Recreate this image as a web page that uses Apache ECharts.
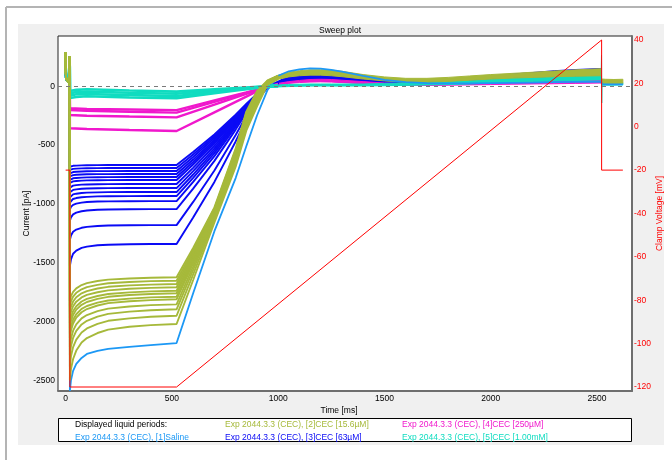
<!DOCTYPE html>
<html>
<head>
<meta charset="utf-8">
<script src="https://cdn.jsdelivr.net/npm/echarts@6/dist/echarts.min.js"></script>
<style>
html, body { margin: 0; padding: 0; background: #fff; }
#chart { width: 672px; height: 460px; }
</style>
</head>
<body>
<div id="chart"></div>
<script>
// ---- Sweep data: time in ms, current in pA, clamp voltage in mV ----

// Short pulse at the start of every sweep (shared by all sweeps)
const preT = [0, 0.5, 2, 5, 10, 15, 19];
const preI = [290, 120, 75, 55, 42, 36, 255];

// Hold phase at -120 mV, then the ramp phase
const holdT = [20, 25, 35, 50, 75, 100, 150, 200, 300, 400, 522];
const rampT = [600, 700, 800, 850, 900, 950, 1000];

// [1] Saline
const salineHold = [-2590, -2500, -2420, -2361, -2310, -2276, -2250, -2233, -2215, -2200, -2183];
const salineRamp = [-1760, -1232, -780, -510, -250, -30, 90];
const salineTailT = [1050, 1100, 1150, 1200, 1250, 1300, 1400, 1500, 1600, 1700, 1800, 1900, 2000, 2100, 2200, 2300, 2400, 2520, 2524, 2622];
const salineTail = [128, 145, 152, 150, 140, 125, 88, 55, 35, 28, 25, 25, 28, 30, 32, 35, 38, 40, 17, 17];

// [2] CEC 15.6 µM sweeps
const oliveHold = [
  [-1824, -1784, -1748, -1718, -1690, -1674, -1656, -1644, -1634, -1628, -1624],
  [-1873, -1829, -1789, -1756, -1726, -1708, -1688, -1675, -1664, -1657, -1653],
  [-1921, -1873, -1830, -1794, -1760, -1741, -1719, -1705, -1693, -1686, -1681],
  [-1969, -1917, -1870, -1831, -1795, -1774, -1751, -1735, -1722, -1714, -1709],
  [-2018, -1962, -1912, -1870, -1830, -1808, -1783, -1766, -1752, -1744, -1738],
  [-2056, -1997, -1944, -1899, -1858, -1834, -1807, -1790, -1775, -1766, -1760],
  [-2105, -2042, -1985, -1938, -1893, -1868, -1840, -1821, -1805, -1795, -1789],
  [-2143, -2077, -2017, -1967, -1921, -1894, -1864, -1844, -1828, -1818, -1811],
  [-2216, -2144, -2078, -2024, -1973, -1945, -1912, -1890, -1872, -1861, -1854],
  [-2288, -2210, -2139, -2080, -2025, -1994, -1959, -1935, -1916, -1904, -1896],
  [-2382, -2296, -2218, -2154, -2093, -2059, -2020, -1994, -1973, -1960, -1951],
  [-2501, -2405, -2319, -2247, -2179, -2141, -2098, -2069, -2045, -2031, -2021]
];
const oliveRamp = [
  [-1374, -1030, -530, -215, -41, 50, 92],
  [-1394, -1039, -541, -227, -51, 47, 90],
  [-1413, -1048, -552, -238, -60, 45, 88],
  [-1432, -1057, -563, -250, -69, 43, 86],
  [-1452, -1066, -574, -261, -79, 40, 83],
  [-1468, -1074, -582, -271, -86, 38, 82],
  [-1488, -1083, -594, -282, -96, 35, 80],
  [-1503, -1090, -602, -291, -103, 34, 78],
  [-1532, -1104, -619, -309, -117, 30, 75],
  [-1561, -1117, -635, -326, -131, 26, 71],
  [-1599, -1135, -656, -348, -150, 21, 67],
  [-1647, -1157, -683, -377, -173, 15, 62]
];

// [3] CEC 63 µM sweeps
const blueHold = [
  [-684, -680, -676, -674, -672, -671, -670, -669, -669, -669, -669],
  [-710, -706, -702, -700, -698, -697, -696, -695, -695, -695, -695],
  [-740, -734, -729, -726, -724, -722, -721, -721, -720, -720, -720],
  [-766, -760, -755, -752, -750, -748, -747, -747, -746, -746, -746],
  [-796, -789, -782, -779, -776, -774, -773, -772, -771, -771, -771],
  [-822, -815, -808, -805, -802, -800, -799, -798, -797, -797, -797],
  [-861, -852, -845, -840, -836, -835, -833, -832, -831, -831, -831],
  [-900, -890, -881, -876, -871, -869, -867, -866, -865, -865, -865],
  [-944, -931, -919, -913, -907, -904, -902, -900, -899, -899, -899],
  [-988, -972, -958, -950, -943, -940, -936, -935, -934, -933, -933],
  [-1046, -1025, -1008, -997, -989, -984, -980, -978, -977, -976, -976],
  [-1144, -1114, -1089, -1074, -1062, -1056, -1050, -1047, -1045, -1044, -1044],
  [-1305, -1268, -1236, -1218, -1203, -1195, -1188, -1184, -1181, -1180, -1180],
  [-1526, -1471, -1424, -1397, -1374, -1363, -1352, -1347, -1343, -1341, -1341]
];
const blueRamp = [
  [-559, -409, -241, -150, -65, -5, 35],
  [-580, -425, -250, -155, -67, -5, 33],
  [-601, -440, -258, -160, -69, -6, 32],
  [-623, -456, -267, -165, -71, -6, 30],
  [-643, -471, -275, -170, -73, -7, 29],
  [-665, -486, -284, -175, -74, -7, 28],
  [-693, -507, -296, -182, -77, -8, 27],
  [-721, -527, -307, -189, -79, -8, 26],
  [-750, -547, -319, -196, -82, -9, 25],
  [-778, -568, -330, -203, -84, -9, 24],
  [-813, -594, -345, -211, -87, -10, 23],
  [-870, -634, -368, -225, -92, -10, 22],
  [-983, -716, -414, -252, -101, -11, 21],
  [-1116, -813, -469, -284, -112, -12, 20]
];

// [4] CEC 250 µM sweeps
const magT = [20, 100, 300, 522, 700, 850, 930, 1000];
const magI = [
  [-187, -192, -197, -202, -120, -52, -15, 20],
  [-201, -208, -216, -224, -133, -56, -15, 18],
  [-244, -250, -257, -264, -155, -64, -15, 16],
  [-357, -363, -372, -380, -221, -87, -15, 14]
];

// [5] CEC 1.00 mM sweeps
const tealT = [20, 50, 100, 300, 522, 700, 850, 950, 1000];
const tealI = [
  [-40, -30, -25, -35, -45, -26, -11, 2, 10],
  [-60, -48, -45, -55, -63, -37, -15, 0, 6],
  [-80, -68, -65, -75, -82, -48, -20, -2, 3],
  [-100, -90, -85, -95, -100, -58, -24, -4, 0]
];

// Outward phase: spread of each group of sweeps (lower / upper edge)
const bandT = [950, 1000, 1050, 1100, 1150, 1200, 1250, 1300, 1400, 1500, 1600, 1700, 1800, 1900, 2000, 2100, 2200, 2300, 2400, 2520];
const oliveHi = [50, 95, 120, 133, 140, 141, 138, 128, 100, 80, 68, 68, 76, 88, 100, 110, 120, 130, 140, 150];
const oliveLo = [15, 60, 80, 90, 95, 95, 90, 82, 62, 46, 36, 36, 42, 52, 62, 70, 76, 82, 86, 90];
const blueHi = [0, 45, 85, 105, 115, 116, 110, 100, 75, 55, 45, 48, 58, 72, 88, 104, 118, 133, 143, 152];
const blueLo = [-15, 10, 30, 40, 45, 45, 42, 36, 25, 15, 12, 12, 15, 20, 25, 30, 35, 40, 45, 50];
const magHi = [5, 25, 40, 50, 58, 60, 58, 52, 40, 28, 22, 22, 25, 30, 35, 40, 45, 50, 55, 60];
const magLo = [-10, 10, 25, 32, 36, 38, 36, 32, 22, 12, 8, 8, 10, 12, 15, 18, 20, 22, 25, 28];
const tealHi = [5, 12, 16, 18, 20, 20, 20, 20, 20, 25, 30, 35, 40, 50, 62, 70, 76, 82, 86, 90];
const tealLo = [-10, -5, -2, 0, 2, 2, 2, 2, 3, 5, 8, 12, 15, 20, 28, 34, 40, 45, 50, 54];

// After the step back to -20 mV
const postT = [2524, 2540, 2580, 2622];
const olivePostHi = [62, 60, 58, 60];
const olivePostLo = [28, 26, 25, 26];
const tealPostHi = [30, 28, 28, 30];
const tealPostLo = [10, 10, 10, 12];
const stepT = [2520, 2521.5, 2522.5, 2524];
const stepI = [90, 265, -142, 20];

// Clamp voltage protocol
const voltT = [0, 20, 20, 522, 2522, 2522, 2622];
const voltV = [-20, -20, -120, -120, 40, -20, -20];

// Axis ticks
const timeTicks = [0, 500, 1000, 1500, 2000, 2500];
const currentTicks = [-2500, -2000, -1500, -1000, -500, 0];
const voltTicks = [-120, -100, -80, -60, -40, -20, 0, 20, 40];

// Legend entries: row / column inside the legend box
const legendTitle = 'Displayed liquid periods:';
const periods = [
  { label: 'Exp 2044.3.3 (CEC), [1]Saline', color: '#1c98f5', row: 1, col: 0 },
  { label: 'Exp 2044.3.3 (CEC), [2]CEC [15.6µM]', color: '#a6b93a', row: 0, col: 1 },
  { label: 'Exp 2044.3.3 (CEC), [3]CEC [63µM]', color: '#0a0af5', row: 1, col: 1 },
  { label: 'Exp 2044.3.3 (CEC), [4]CEC [250µM]', color: '#f018cc', row: 0, col: 2 },
  { label: 'Exp 2044.3.3 (CEC), [5]CEC [1.00mM]', color: '#10dcc0', row: 1, col: 2 }
];
const C = {
  saline: periods[0].color, olive: periods[1].color, blue: periods[2].color,
  magenta: periods[3].color, teal: periods[4].color
};

// ---- Series builders ----
function pairs(T, V) { return T.map((t, i) => [t, V[i]]); }

function trace(color, T, V, width) {
  return {
    type: 'line', data: pairs(T, V), symbol: 'none', showSymbol: false,
    lineStyle: { color: color, width: width }, itemStyle: { color: color },
    silent: true, clip: true
  };
}

function band(color, T, lo, hi) {
  return {
    type: 'custom', data: [[T[0], lo[0]]], silent: true, clip: true,
    renderItem: function (params, api) {
      const pts = [];
      for (let i = 0; i < T.length; i++) pts.push(api.coord([T[i], hi[i]]));
      for (let i = T.length - 1; i >= 0; i--) pts.push(api.coord([T[i], lo[i]]));
      return { type: 'polygon', shape: { points: pts }, style: { fill: color, stroke: color, lineWidth: 1 } };
    }
  };
}

const series = [];

// zero-current reference
const blueBand = band(C.blue, bandT, blueLo, blueHi);
blueBand.markLine = {
  silent: true, symbol: 'none', label: { show: false },
  lineStyle: { color: '#7a7a7a', type: [4, 4], width: 1 },
  data: [{ yAxis: 0 }]
};
series.push(blueBand);
blueHold.forEach((h, i) => {
  series.push(trace(C.blue, preT.concat(holdT, rampT), preI.concat(h, blueRamp[i]), 1.9));
});

series.push(band(C.magenta, bandT, magLo, magHi));
magI.forEach(v => series.push(trace(C.magenta, preT.concat(magT), preI.concat(v), 2.4)));

series.push(trace(C.saline, preT.concat(holdT, rampT, salineTailT),
  preI.concat(salineHold, salineRamp, salineTail), 1.8));

series.push(band(C.teal, bandT, tealLo, tealHi));
series.push(band(C.teal, postT, tealPostLo, tealPostHi));
tealI.forEach(v => series.push(trace(C.teal, preT.concat(tealT), preI.concat(v), 2.6)));
series.push(trace(C.teal, stepT, stepI, 1));

series.push(band(C.olive, bandT, oliveLo, oliveHi));
series.push(band(C.olive, postT, olivePostLo, olivePostHi));
oliveHold.forEach((h, i) => {
  series.push(trace(C.olive, preT.concat(holdT, rampT), preI.concat(h, oliveRamp[i]), 1.9));
});

const volt = trace('#ff0000', voltT, voltV, 1);
volt.yAxisIndex = 1;
series.push(volt);

// ---- Frame, legend box ----
const FONT = 'Liberation Sans';
const legendCols = [75, 225, 402];
const legendRows = [425, 437.5];

const graphic = [
  { type: 'rect', z: -100, silent: true, shape: { x: 18, y: 24, width: 646, height: 421 }, style: { fill: '#f0f0f0' } },
  { type: 'line', z: -100, silent: true, shape: { x1: 6, y1: 7, x2: 672, y2: 7 }, style: { stroke: '#b4b4b4', lineWidth: 2 } },
  { type: 'line', z: -100, silent: true, shape: { x1: 6, y1: 7, x2: 6, y2: 460 }, style: { stroke: '#b4b4b4', lineWidth: 2 } },
  { type: 'rect', silent: true, shape: { x: 58.5, y: 418.5, width: 573, height: 23 }, style: { fill: '#ffffff', stroke: '#000', lineWidth: 1 } },
  { type: 'text', silent: true, style: { text: legendTitle, x: legendCols[0], y: legendRows[0], fill: '#000', fontSize: 8.5, fontFamily: FONT, verticalAlign: 'middle' } }
];
periods.forEach(p => {
  graphic.push({ type: 'text', silent: true, style: { text: p.label, x: legendCols[p.col], y: legendRows[p.row], fill: p.color, fontSize: 8.5, fontFamily: FONT, verticalAlign: 'middle' } });
});

const labelStyle = { fontSize: 8.5, fontFamily: FONT, color: '#000' };
const plain = v => String(v);

const option = {
  animation: false,
  textStyle: { fontFamily: FONT },
  title: {
    text: 'Sweep plot', left: 340, top: 26, textAlign: 'center', padding: 0,
    textStyle: { fontSize: 8.5, fontWeight: 'normal', color: '#000', fontFamily: FONT }
  },
  grid: {
    left: 58, top: 36, width: 574, height: 355, containLabel: false,
    show: true, backgroundColor: '#ffffff', borderColor: '#222', borderWidth: 1
  },
  xAxis: {
    type: 'value', min: -36, max: 2665,
    name: 'Time [ms]', nameLocation: 'middle', nameGap: 15, nameMoveOverlap: false,
    nameTextStyle: Object.assign({ padding: [0, 12, 0, 0] }, labelStyle),
    axisLine: { show: true, onZero: false, lineStyle: { color: '#6e6e6e', width: 2 } },
    axisTick: { show: false }, splitLine: { show: false },
    axisLabel: Object.assign({ margin: 3, customValues: timeTicks, formatter: plain }, labelStyle)
  },
  yAxis: [
    {
      type: 'value', min: -2591, max: 428, position: 'left',
      name: 'Current [pA]', nameLocation: 'middle', nameGap: 27, nameRotate: 90, nameMoveOverlap: false,
      nameTextStyle: labelStyle,
      axisLine: { show: false }, axisTick: { show: false }, splitLine: { show: false },
      axisLabel: Object.assign({ margin: 3, customValues: currentTicks, formatter: plain }, labelStyle)
    },
    {
      type: 'value', min: -121.84, max: 41.84, position: 'right',
      name: 'Clamp Voltage [mV]', nameLocation: 'middle', nameGap: 23, nameRotate: 90, nameMoveOverlap: false,
      nameTextStyle: { fontSize: 8.5, fontFamily: FONT, color: '#ff0000' },
      axisLine: { show: true, onZero: false, lineStyle: { color: '#6e6e6e', width: 2 } },
      axisTick: { show: false }, splitLine: { show: false },
      axisLabel: { margin: 2, customValues: voltTicks, formatter: plain, fontSize: 8.5, fontFamily: FONT, color: '#ff0000' }
    }
  ],
  graphic: graphic,
  series: series
};

const chart = echarts.init(document.getElementById('chart'), null, { renderer: 'canvas' });
chart.setOption(option);
</script>
</body>
</html>
